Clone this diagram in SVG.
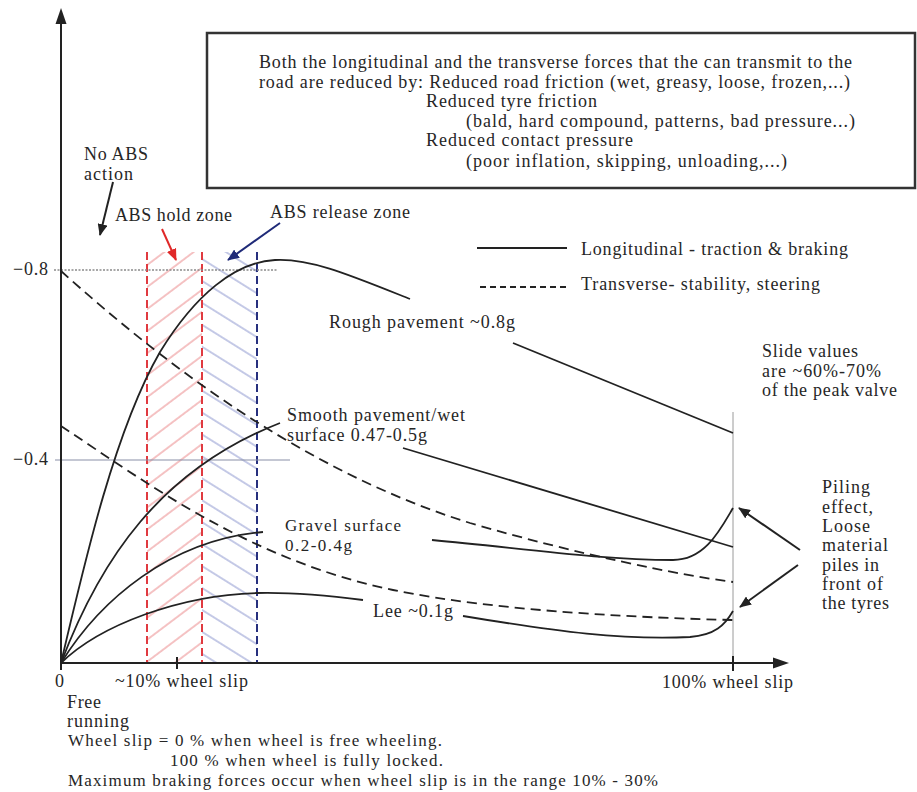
<svg xmlns="http://www.w3.org/2000/svg" width="917" height="792" viewBox="0 0 917 792">
<style>
text{font-family:"Liberation Serif","Times New Roman",serif;font-size:18px;fill:#262626}
text.s{font-size:17px}
.ax{stroke:#222;stroke-width:2;fill:none}
.cv{stroke:#222;stroke-width:1.8;fill:none}
.ds{stroke:#222;stroke-width:1.8;fill:none;stroke-dasharray:10 6}
.rd{stroke:#e03a40;stroke-width:2;stroke-dasharray:8 4;fill:none}
.bd{stroke:#27307e;stroke-width:2;stroke-dasharray:8 4;fill:none}
</style>
<defs>
<pattern id="hr" patternUnits="userSpaceOnUse" width="10" height="17.6" patternTransform="rotate(-37)">
<line x1="0" y1="1" x2="10" y2="1" stroke="#ee9a9c" stroke-width="1.2"/>
</pattern>
<pattern id="hb" patternUnits="userSpaceOnUse" width="10" height="18.6" patternTransform="rotate(32)">
<line x1="0" y1="1" x2="10" y2="1" stroke="#9ea6d6" stroke-width="1.2"/>
</pattern>
<marker id="mk" viewBox="0 0 12 10" refX="11" refY="5" markerWidth="12" markerHeight="10" markerUnits="userSpaceOnUse" orient="auto">
<path d="M0,0 L12,5 L0,10 Z" fill="#222"/>
</marker>
<marker id="mr" viewBox="0 0 12 10" refX="11" refY="5" markerWidth="12" markerHeight="10" markerUnits="userSpaceOnUse" orient="auto">
<path d="M0,0 L12,5 L0,10 Z" fill="#e02828"/>
</marker>
<marker id="mb" viewBox="0 0 12 10" refX="11" refY="5" markerWidth="12" markerHeight="10" markerUnits="userSpaceOnUse" orient="auto">
<path d="M0,0 L12,5 L0,10 Z" fill="#1f2a78"/>
</marker>
</defs>
<rect width="917" height="792" fill="#fff"/>

<g id="zones">
<rect x="147" y="252" width="55" height="411" fill="url(#hr)"/>
<rect x="202" y="252" width="55" height="411" fill="url(#hb)"/>
<line class="rd" x1="147" y1="252" x2="147" y2="663"/>
<line class="rd" x1="202" y1="252" x2="202" y2="663"/>
<line class="bd" x1="257" y1="252" x2="257" y2="663"/>
</g>

<g id="gridlines">
<line x1="54" y1="270" x2="277" y2="270" stroke="#8a8a8a" stroke-width="1.3" stroke-dasharray="2 1.5"/>
<line x1="55" y1="460" x2="290" y2="460" stroke="#8a90a8" stroke-width="1.2"/>
<line x1="733" y1="412" x2="733" y2="663" stroke="#9a9a9a" stroke-width="1"/>
</g>

<g id="axes">
<line class="ax" x1="61" y1="665" x2="61" y2="20"/>
<path d="M61,8 L55.5,24 L66.5,24 Z" fill="#222"/>
<line class="ax" x1="60" y1="663" x2="776" y2="663"/>
<path d="M789,663 L773,657.5 L773,668.5 Z" fill="#222"/>
<line class="ax" x1="61" y1="663" x2="61" y2="670"/>
<line class="ax" x1="177" y1="657" x2="177" y2="669"/>
<line class="ax" x1="733" y1="656" x2="733" y2="671"/>
</g>

<g id="connectors">
<path class="cv" d="M61,663 C85,560 115,430 160,352 C195,295 235,262 275,260 C310,258 350,275 410,299"/>
<line class="cv" x1="513" y1="343" x2="733" y2="433"/>
<path class="cv" d="M61,663 C100,560 160,470 280,423"/>
<line class="cv" x1="403" y1="448" x2="733" y2="547"/>
<path class="cv" d="M61,663 C100,600 170,540 263,532"/>
<path class="cv" d="M432,540 C520,548 600,560 673,560 C705,560 720,530 733,508"/>
<path class="cv" d="M61,663 C100,625 180,595 257,593 C300,592 340,597 363,600"/>
<path class="cv" d="M463,616 C560,632 620,640 690,637 C715,635 725,625 733,611"/>
<path class="ds" d="M61,271 C160,360 300,470 470,523 C580,555 680,575 733,582"/>
<path class="ds" d="M61,426 C150,485 250,560 393,590 C500,612 650,618 733,620"/>
<line x1="162" y1="229" x2="176" y2="260" stroke="#e02828" stroke-width="2" marker-end="url(#mr)"/>
<line x1="280" y1="223" x2="228" y2="260" stroke="#1f2a78" stroke-width="2" marker-end="url(#mb)"/>
<line x1="113" y1="182" x2="100" y2="235" stroke="#222" stroke-width="2" marker-end="url(#mk)"/>
<line x1="800" y1="550" x2="739" y2="508" stroke="#222" stroke-width="2" marker-end="url(#mk)"/>
<line x1="798" y1="565" x2="740" y2="607" stroke="#222" stroke-width="2" marker-end="url(#mk)"/>
</g>

<g id="note-box">
<rect x="207" y="33" width="708" height="155" fill="#fff" stroke="#333" stroke-width="2.5"/>
<text x="259" y="68" textLength="593">Both the longitudinal and the transverse forces that the can transmit to the</text>
<text x="259" y="88" textLength="591">road are reduced by: Reduced road friction (wet, greasy, loose, frozen,...)</text>
<text x="426" y="107" textLength="171">Reduced tyre friction</text>
<text x="466" y="127" textLength="389">(bald, hard compound, patterns, bad pressure...)</text>
<text x="426" y="146" textLength="207">Reduced contact pressure</text>
<text x="466" y="167" textLength="321">(poor inflation, skipping, unloading,...)</text>
</g>

<g id="legend">
<line x1="477" y1="248" x2="567" y2="248" stroke="#222" stroke-width="2"/>
<line x1="480" y1="287" x2="570" y2="287" stroke="#222" stroke-width="2" stroke-dasharray="6 4"/>
<text x="581" y="255" textLength="267">Longitudinal - traction &amp; braking</text>
<text x="581" y="290" textLength="239">Transverse- stability, steering</text>
</g>

<g id="labels">
<text x="84" y="160" textLength="64">No ABS</text>
<text x="84" y="180" textLength="49">action</text>
<text x="115" y="221" textLength="117">ABS hold zone</text>
<text x="270" y="218" textLength="140">ABS release zone</text>
<text x="13" y="275" textLength="35">−0.8</text>
<text x="13" y="465" textLength="35">−0.4</text>
<text x="329" y="328" textLength="186">Rough pavement ~0.8g</text>
<text x="287" y="421" textLength="178">Smooth pavement/wet</text>
<text x="287" y="441" textLength="140">surface 0.47-0.5g</text>
<text class="s" x="285" y="531" textLength="116">Gravel surface</text>
<text class="s" x="285" y="551" textLength="67">0.2-0.4g</text>
<text x="373" y="617" textLength="80">Lee ~0.1g</text>
<text x="762" y="357" textLength="96">Slide values</text>
<text x="762" y="377" textLength="119">are ~60%-70%</text>
<text x="762" y="396" textLength="135">of the peak valve</text>
<text x="822" y="493" textLength="48">Piling</text>
<text x="822" y="513" textLength="51">effect,</text>
<text x="822" y="532" textLength="48">Loose</text>
<text x="822" y="551" textLength="66">material</text>
<text x="822" y="571" textLength="57">piles in</text>
<text x="822" y="590" textLength="61">front of</text>
<text x="822" y="609" textLength="67">the tyres</text>
<text x="55" y="687" textLength="9">0</text>
<text x="115" y="687" textLength="133">~10% wheel slip</text>
<text x="662" y="688" textLength="131">100% wheel slip</text>
<text x="67" y="708" textLength="34">Free</text>
<text x="67" y="727" textLength="62">running</text>
<text class="s" x="68" y="746" textLength="374">Wheel slip = 0 % when wheel is free wheeling.</text>
<text class="s" x="170" y="766" textLength="273">100 % when wheel is fully locked.</text>
<text class="s" x="68" y="786" textLength="590">Maximum braking forces occur when wheel slip is in the range 10% - 30%</text>
</g>
</svg>
